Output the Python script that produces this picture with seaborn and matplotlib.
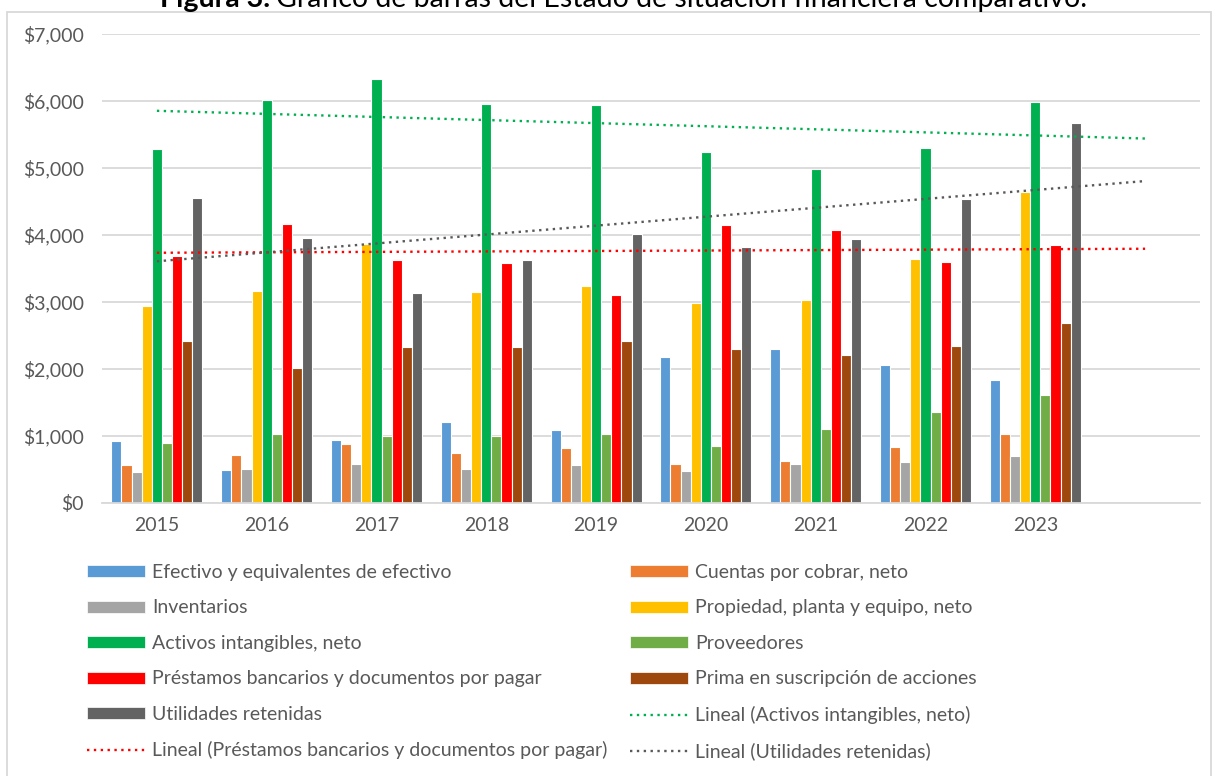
import numpy as np
import pandas as pd
import matplotlib
matplotlib.use("Agg")
import matplotlib.pyplot as plt
import seaborn as sns
from matplotlib.patches import Patch, Rectangle
from matplotlib.lines import Line2D
from matplotlib.ticker import FuncFormatter, MultipleLocator

# ---------------- data ----------------
years = ["2015", "2016", "2017", "2018", "2019", "2020", "2021", "2022", "2023"]

efectivo = [927, 498, 947, 1206, 1086, 2177, 2302, 2053, 1829]
cuentas_cobrar = [563, 712, 887, 747, 827, 578, 623, 842, 1036]
inventarios = [468, 513, 578, 503, 563, 483, 578, 608, 698]
propiedad = [2940, 3169, 3866, 3149, 3244, 2985, 3029, 3642, 4644]
activos_intangibles = [5282, 6019, 6328, 5959, 5939, 5232, 4983, 5296, 5989]
proveedores = [902, 1036, 1006, 1006, 1036, 852, 1101, 1360, 1609]
prestamos = [3692, 4170, 3632, 3577, 3104, 4150, 4076, 3597, 3856]
prima = [2417, 2013, 2322, 2322, 2412, 2292, 2212, 2337, 2691]
utilidades = [4554, 3956, 3139, 3632, 4016, 3817, 3941, 4539, 5665]

series_names = [
    "Efectivo y equivalentes de efectivo",
    "Cuentas por cobrar, neto",
    "Inventarios",
    "Propiedad, planta y equipo, neto",
    "Activos intangibles, neto",
    "Proveedores",
    "Préstamos bancarios y documentos por pagar",
    "Prima en suscripción de acciones",
    "Utilidades retenidas",
]
series_values = [efectivo, cuentas_cobrar, inventarios, propiedad,
                 activos_intangibles, proveedores, prestamos, prima, utilidades]
colors = ["#5B9BD5", "#ED7D31", "#A5A5A5", "#FFC000", "#00B050",
          "#70AD47", "#FF0000", "#9E480E", "#636363"]

trend_series = ["Activos intangibles, neto",
                "Préstamos bancarios y documentos por pagar",
                "Utilidades retenidas"]
trend_colors = ["#00B050", "#FF0000", "#595959"]

title_bold = "Figura 3."
title_rest = "Gráfico de barras del Estado de situación financiera comparativo."

# ---------------- figure ----------------
sns.set_theme(style="white")
plt.rcParams['font.family'] = ['Lato', 'DejaVu Sans']

W, H = 1217, 776
fig = plt.figure(figsize=(W / 100, H / 100), dpi=100)
fig.patch.set_facecolor("white")

# chart frame
fig.patches.append(Rectangle((7 / W, -0.05), (1211 - 7) / W, 1.05 - 12 / H,
                             transform=fig.transFigure, fill=False,
                             edgecolor="#D9D9D9", linewidth=1.3))

# title (top part cropped in reference)
fig.text(270 / W, 1 - 7 / H, title_bold, ha="right", va="baseline",
         fontsize=20.5, fontweight="bold", color="black")
fig.text(276 / W, 1 - 7 / H, title_rest, ha="left", va="baseline",
         fontsize=20.5, color="black")

ax = fig.add_axes([102 / W, 1 - 503 / H, (1200 - 102) / W, (503 - 34) / H])

rows = []
for name, vals in zip(series_names, series_values):
    for y, v in zip(years, vals):
        rows.append({"year": y, "value": v, "serie": name})
df = pd.DataFrame(rows)

sns.barplot(data=df, x="year", y="value", hue="serie", order=years,
            hue_order=series_names, palette=colors, width=0.83,
            saturation=1, edgecolor="white", linewidth=0.8,
            ax=ax, legend=False, zorder=2)

# linear trendlines (fit on the 9 years, forecast 1 period forward)
xs_fit = np.arange(1, len(years) + 1)
xs_draw = np.arange(1, len(years) + 2)
for name, col in zip(trend_series, trend_colors):
    vals = series_values[series_names.index(name)]
    slope, intercept = np.polyfit(xs_fit, vals, 1)
    ax.plot(xs_draw - 1, intercept + slope * xs_draw, color=col,
            linestyle=(0, (1, 1.9)), linewidth=1.7, zorder=3)

ax.set_xlim(-0.5, len(years) + 0.5)
ax.set_ylim(0, 7000)
ax.yaxis.set_major_locator(MultipleLocator(1000))
ax.yaxis.set_major_formatter(FuncFormatter(lambda v, p: f"${v:,.0f}"))
ax.set_xticks(range(len(years)))
ax.set_xticklabels(years)
ax.set_xlabel("")
ax.set_ylabel("")
ax.grid(axis="y", color="#D9D9D9", linewidth=1.3, zorder=0)
ax.set_axisbelow(True)
for s in ["left", "top", "right"]:
    ax.spines[s].set_visible(False)
ax.spines["bottom"].set_color("#D9D9D9")
ax.spines["bottom"].set_linewidth(1.3)
ax.tick_params(axis="both", length=0, labelsize=14, colors="#595959")
ax.tick_params(axis="y", pad=13)
ax.tick_params(axis="x", pad=10)

# ---------------- legend (two columns, row-major like Excel) ----------------
handles = [Patch(facecolor=c, edgecolor="white", linewidth=0.5) for c in colors]
labels = list(series_names)
for name, col in zip(trend_series, trend_colors):
    handles.append(Line2D([0], [0], color=col, linestyle=(0, (1, 1.9)), linewidth=1.7))
    labels.append(f"Lineal ({name})")

col1_h, col1_l = handles[0::2], labels[0::2]
col2_h, col2_l = handles[1::2], labels[1::2]

leg_kw = dict(loc="upper left", frameon=False, fontsize=14, borderpad=0,
              borderaxespad=0, handlelength=2.98, handleheight=0.57,
              handletextpad=0.36, labelspacing=0.95, labelcolor="#595959")
leg1 = fig.legend(col1_h, col1_l, bbox_to_anchor=(87 / W, 1 - 564 / H), **leg_kw)
leg2 = fig.legend(col2_h, col2_l, bbox_to_anchor=(630 / W, 1 - 564 / H), **leg_kw)

fig.savefig("out.png", dpi=100, facecolor="white")
